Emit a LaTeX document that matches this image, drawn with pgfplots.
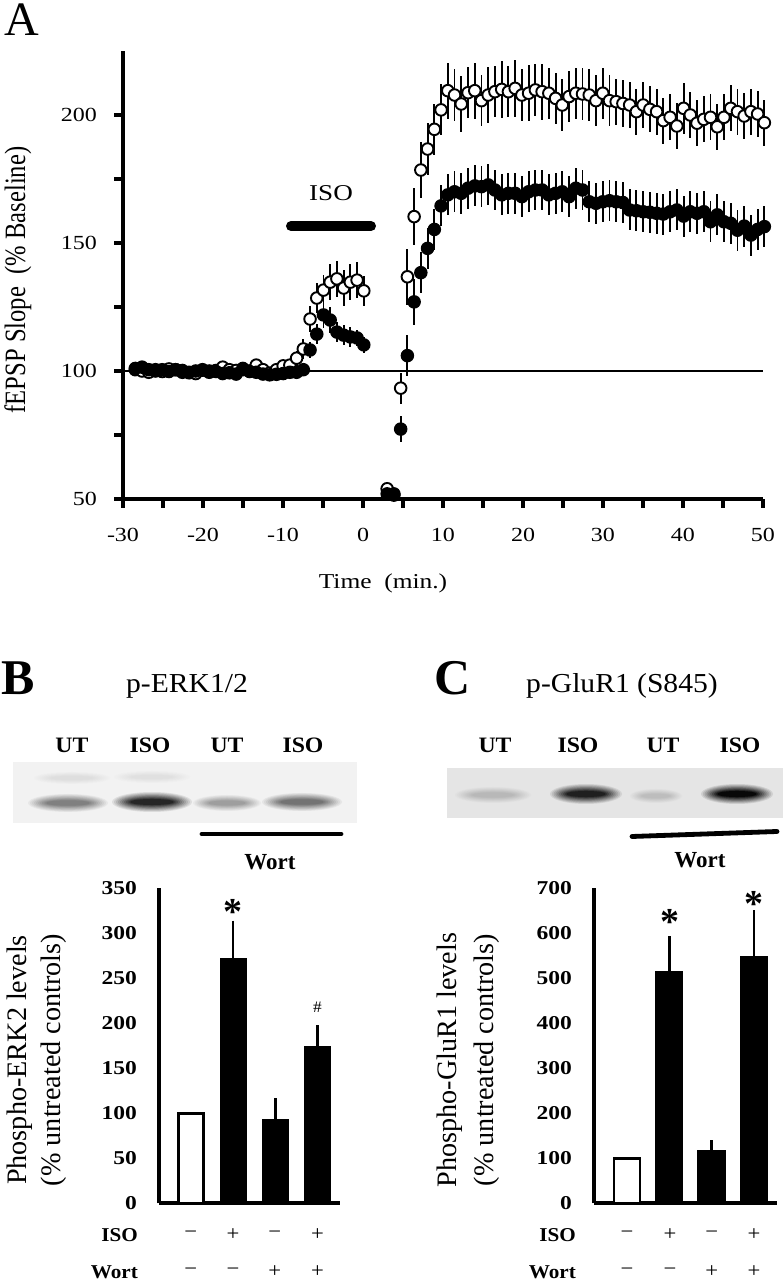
\documentclass[border=0pt]{standalone}
\usepackage{pgfplots}
\pgfplotsset{compat=1.18}
\usepackage{graphicx}
\usepackage{fontspec}
\setmainfont{Liberation Serif}[FakeStretch=1.2]
\newfontfamily\midf{Liberation Serif}[FakeStretch=1.08]
\newfontfamily\plain{Liberation Serif}

% blurred blot band: x y halfwidth halfheight peak-darkness background-darkness
\newcommand\band[6]{%
  \foreach \s in {1,...,10}{%
    \pgfmathsetmacro\cc{#6+(#5-#6)*\s/10}%
    \pgfmathsetmacro\sx{1-0.45*(\s-1)/9}%
    \pgfmathsetmacro\sy{1-0.7*(\s-1)/9}%
    \fill[black!\cc] (#1,#2) ellipse ({#3*\sx} and {#4*\sy});}}

\begin{document}
\begin{tikzpicture}
\useasboundingbox (0,0) rectangle (391.5pt,640pt);

% ---------------- Panel A ----------------
\begin{axis}[
  at={(61.5pt,390.5pt)}, anchor=south west, scale only axis,
  width=320pt, height=224pt,
  xmin=-30, xmax=50, ymin=50, ymax=225,
  axis x line*=bottom, axis y line*=left,
  axis line style={line width=1.6pt},
  tick style={black, line width=1.6pt},
  major tick length=4.5pt, tick align=outside,
  xtick={-30,-25,...,50}, xticklabels={-30,,-20,,-10,,0,,10,,20,,30,,40,,50},
  ytick={50,75,...,200}, yticklabels={50,,100,,150,,200},
  xticklabel style={font=\fontsize{10}{11}\selectfont, yshift=-6.5pt},
  yticklabel style={font=\fontsize{10}{11}\selectfont, xshift=-5pt},
  clip=false,
]
\draw[line width=1.2pt] (axis cs:-30,100) -- (axis cs:50,100);
\draw[line width=5pt, line cap=round] (axis cs:-9,156.6) -- (axis cs:1,156.6);
\node[font=\fontsize{11.3}{13}\selectfont] at (axis cs:-4,169.5) {ISO};

\addplot[only marks, mark=*, mark size=2.9pt,
  mark options={fill=white, draw=black, line width=0.95pt},
  error bars/.cd, y dir=both, y explicit, error mark=none,
  error bar style={line width=0.95pt, black}]
table[x=t, y=v, y error=e] {
t v e
-28.46 100.5 1
-27.62 100.0 1
-26.78 99.5 1
-25.94 100.5 1
-25.10 99.8 1
-24.26 100.8 1
-23.42 100.5 1
-22.58 99.5 1
-21.74 99.3 1
-20.90 99.0 1
-20.06 100.3 1
-19.22 100.0 1
-18.38 100.2 1
-17.54 101.5 1
-16.70 100.5 1
-15.86 100.2 1
-15.02 101.0 1
-14.18 100.0 1
-13.34 102.3 1
-12.50 100.5 1
-11.66 99.2 1
-10.82 100.5 1
-9.98 102.0 1.5
-9.14 102.3 2
-8.30 105.0 3
-7.46 108.6 4
-6.62 120.3 5
-5.78 128.5 6
-4.94 131.6 6
-4.10 134.7 7
-3.26 136.0 7
-2.42 132.4 7
-1.58 134.7 7
-0.74 135.5 7
0.10 131.3 6
3.02 54.0 2
3.86 52.0 1.5
4.71 93.3 6
5.55 136.8 11
6.39 160.3 11
7.23 178.5 11
8.07 186.7 10
8.92 194.4 10
9.76 202.0 10
10.60 209.5 11
11.44 207.8 10
12.28 204.3 11
13.13 208.7 10
13.97 209.5 11
14.81 205.6 10
15.65 207.8 11
16.49 209.1 10
17.34 210.0 11
18.18 209.1 10
19.02 210.4 11
19.86 207.8 10
20.70 208.5 11
21.55 209.8 10
22.39 209.1 11
23.23 208.5 10
24.07 206.5 10
24.91 203.9 10
25.76 207.2 10
26.60 208.5 10
27.44 208.2 10
28.28 207.8 10
29.12 205.6 10
29.97 208.5 10
30.81 205.6 10
31.65 205.2 9
32.49 204.5 9
33.33 203.9 9
34.18 201.3 9
35.02 203.9 9
35.86 202.2 9
36.70 201.3 9
37.54 197.8 9
38.39 199.1 9
39.23 195.7 9
40.07 202.6 10
40.91 200.0 9
41.75 196.8 9
42.60 198.3 9
43.44 199.1 9
44.28 195.4 9
45.12 199.1 9
45.96 202.6 9
46.81 201.3 9
47.65 199.6 9
48.49 201.3 9
49.33 200.4 9
50.17 197.0 9
};

\addplot[only marks, mark=*, mark size=2.9pt,
  mark options={fill=black, draw=black, line width=0.95pt},
  error bars/.cd, y dir=both, y explicit, error mark=none,
  error bar style={line width=0.95pt, black}]
table[x=t, y=v, y error=e] {
t v e
-28.46 101.0 1
-27.62 101.5 1
-26.78 100.5 1
-25.94 100.0 1
-25.10 100.5 1
-24.26 99.8 1
-23.42 100.5 1
-22.58 100.2 1
-21.74 99.5 1
-20.90 100.0 1
-20.06 100.5 1
-19.22 99.5 1
-18.38 99.8 1
-17.54 99.0 1
-16.70 99.3 1
-15.86 98.8 1
-15.02 100.5 1
-14.18 99.8 1
-13.34 99.5 1
-12.50 98.8 1
-11.66 98.5 1
-10.82 98.7 1
-9.98 99.0 1
-9.14 99.5 1
-8.30 99.5 1
-7.46 100.5 1.5
-6.62 108.2 3
-5.78 114.4 4
-4.94 121.9 5
-4.10 119.9 5
-3.26 115.2 4
-2.42 114.0 4
-1.58 113.3 4
-0.74 112.9 3
0.10 110.2 3
3.02 52.0 1.5
3.86 51.5 1.5
4.71 77.3 5
5.55 106.0 8
6.39 127.0 9
7.23 138.4 8
8.07 147.9 8
8.92 155.3 8
9.76 164.5 8
10.60 168.8 8
11.44 170.0 8
12.28 169.4 8
13.13 171.4 8
13.97 172.3 8
14.81 172.0 8
15.65 172.7 8
16.49 170.7 8
17.34 168.8 8
18.18 169.4 8
19.02 169.4 8
19.86 168.1 8
20.70 170.0 8
21.55 170.7 8
22.39 170.7 8
23.23 168.8 8
24.07 169.4 8
24.91 170.0 8
25.76 168.1 8
26.60 171.4 8
27.44 170.7 8
28.28 166.1 8
29.12 165.5 8
29.97 166.1 8
30.81 166.5 8
31.65 166.1 8
32.49 165.8 8
33.33 162.9 8
34.18 162.6 8
35.02 162.2 8
35.86 162.0 8
36.70 161.6 8
37.54 161.3 8
38.39 162.2 8
39.23 162.9 8
40.07 160.5 8
40.91 162.2 8
41.75 161.6 8
42.60 162.2 8
43.44 158.3 8
44.28 161.0 8
45.12 158.3 8
45.96 157.7 8
46.81 155.0 8
47.65 156.6 8
48.49 153.1 8
49.33 155.3 8
50.17 156.4 8
};
\end{axis}

% ---------------- Panel B bars ----------------
\begin{axis}[
  at={(79.5pt,38.35pt)}, anchor=south west, scale only axis,
  width=90.5pt, height=157.5pt,
  xmin=0.246, xmax=4.53, ymin=0, ymax=350,
  axis x line*=bottom, axis y line*=left,
  axis line style={line width=1.8pt},
  xtick=\empty, ytick={0,50,...,350},
  major tick length=0pt,
  /pgf/number format/assume math mode=true,
  yticklabel style={font=\bfseries\fontsize{9.8}{11}\selectfont, xshift=-7.5pt},
  clip=false,
]
\addplot[ybar, bar shift=0pt, bar width=0.59, fill=white, draw=black, line width=1.3pt]
  coordinates {(1,100)};
\addplot[ybar, bar shift=0pt, bar width=0.59, fill=black, draw=black, line width=1.1pt,
  error bars/.cd, y dir=plus, y explicit, error mark=-,
  error bar style={line width=1.3pt},
  error mark options={line width=1.3pt, mark size=2.7pt}]
  coordinates {(2,271) +- (0,37) (3,92.5) +- (0,18.5) (4,173.3) +- (0,18.5)};
\end{axis}

% ---------------- Panel C bars ----------------
\begin{axis}[
  at={(297pt,38.35pt)}, anchor=south west, scale only axis,
  width=91.35pt, height=157.5pt,
  xmin=0.22, xmax=4.54, ymin=0, ymax=700,
  axis x line*=bottom, axis y line*=left,
  axis line style={line width=1.8pt},
  xtick=\empty, ytick={0,100,...,700},
  major tick length=0pt,
  /pgf/number format/assume math mode=true,
  yticklabel style={font=\bfseries\fontsize{9.8}{11}\selectfont, xshift=-7.5pt},
  clip=false,
]
\addplot[ybar, bar shift=0pt, bar width=0.62, fill=white, draw=black, line width=1.3pt]
  coordinates {(1,100)};
\addplot[ybar, bar shift=0pt, bar width=0.62, fill=black, draw=black, line width=1.1pt,
  error bars/.cd, y dir=plus, y explicit, error mark=-,
  error bar style={line width=1.3pt},
  error mark options={line width=1.3pt, mark size=2.7pt}]
  coordinates {(2,513) +- (0,68) (3,117) +- (0,11) (4,546.7) +- (0,92)};
\end{axis}

% ---------------- decorations in pixel coordinates ----------------
\begin{scope}[x=0.5pt, y=-0.5pt, shift={(0pt,640pt)}]
% panel letters
\node[font=\plain\fontsize{24}{26}\selectfont] at (22,20) {A};
\node[font=\plain\bfseries\fontsize{25}{27}\selectfont] at (18,678) {B};
\node[font=\plain\bfseries\fontsize{25}{27}\selectfont] at (453,678) {C};

% panel A labels
\node[font=\fontsize{10.6}{12}\selectfont] at (383,583) {Time\ \ (min.)};
\node[rotate=90] at (18,280) {\scalebox{1}[1.2]{\plain\fontsize{12.3}{14}\selectfont fEPSP Slope\ \ (\% Baseline)}};

% panel B header and blot
\node[font=\midf\fontsize{13.7}{15}\selectfont, anchor=base] at (187,693) {p-ERK1/2};
\foreach \xx/\tt in {72/UT,150/ISO,227/UT,303/ISO}
  \node[font=\midf\bfseries\fontsize{11}{12}\selectfont, anchor=base] at (\xx,753) {\tt};
\fill[black!5] (13,762) rectangle (357,823);
\band{72}{778}{38}{6}{13}{5}
\band{152}{777}{38}{6}{12}{5}
\band{68}{803}{40}{9}{50}{5}
\band{152}{802}{40}{10}{85}{5}
\band{227}{803}{34}{8}{38}{5}
\band{302}{802}{40}{9}{55}{5}
\draw[line width=2.4pt, line cap=round] (202,834) -- (341,834);
\node[font=\plain\bfseries\fontsize{11.5}{13}\selectfont, anchor=base] at (270,870) {Wort};
\node[rotate=90] at (20,1060) {\plain\fontsize{14.1}{16}\selectfont Phospho-ERK2 levels};
\node[rotate=90] at (54,1060) {\plain\fontsize{14.1}{16}\selectfont (\% untreated controls)};
\node[font=\plain\bfseries\fontsize{19}{20}\selectfont, anchor=base] at (233,925) {*};
\node[font=\midf\fontsize{8}{9}\selectfont, anchor=base] at (317.5,1013) {\#};
\node[font=\midf\bfseries\fontsize{9.8}{11}\selectfont, anchor=base east] at (145,1241.5) {ISO};
\node[font=\midf\bfseries\fontsize{9.8}{11}\selectfont, anchor=base east] at (145,1278.5) {Wort};
\foreach \xx/\a/\b in {190.8/−/−,233/+/−,274.8/−/+,317.5/+/+}{
  \node[font=\midf\fontsize{10.5}{11}\selectfont] at (\xx,1235) {\a};
  \node[font=\midf\fontsize{10.5}{11}\selectfont] at (\xx,1272) {\b};}

% panel C header and blot
\node[font=\midf\fontsize{13.7}{15}\selectfont, anchor=base] at (622,693) {p-GluR1 (S845)};
\foreach \xx/\tt in {495/UT,578/ISO,663/UT,740/ISO}
  \node[font=\midf\bfseries\fontsize{11}{12}\selectfont, anchor=base] at (\xx,753) {\tt};
\fill[black!10] (447,768) rectangle (783,818);
\band{493}{795}{38}{8}{28}{10}
\band{586}{794}{36}{10}{88}{10}
\band{656}{796}{26}{7}{26}{10}
\band{737}{794}{36}{10}{97}{10}
\draw[line width=2.4pt, line cap=round] (632,836.5) -- (777,831.5);
\node[font=\plain\bfseries\fontsize{11.5}{13}\selectfont, anchor=base] at (700,868) {Wort};
\node[rotate=90] at (450,1060) {\plain\fontsize{14.1}{16}\selectfont Phospho-GluR1 levels};
\node[rotate=90] at (487,1060) {\plain\fontsize{14.1}{16}\selectfont (\% untreated controls)};
\node[font=\plain\bfseries\fontsize{19}{20}\selectfont, anchor=base] at (670,935) {*};
\node[font=\plain\bfseries\fontsize{19}{20}\selectfont, anchor=base] at (754,917) {*};
\node[font=\midf\bfseries\fontsize{9.8}{11}\selectfont, anchor=base east] at (583,1241.5) {ISO};
\node[font=\midf\bfseries\fontsize{9.8}{11}\selectfont, anchor=base east] at (583,1278.5) {Wort};
\foreach \xx/\a/\b in {627/−/−,670/+/−,711.7/−/+,754/+/+}{
  \node[font=\midf\fontsize{10.5}{11}\selectfont] at (\xx,1235) {\a};
  \node[font=\midf\fontsize{10.5}{11}\selectfont] at (\xx,1272) {\b};}
\end{scope}
\end{tikzpicture}
\end{document}
